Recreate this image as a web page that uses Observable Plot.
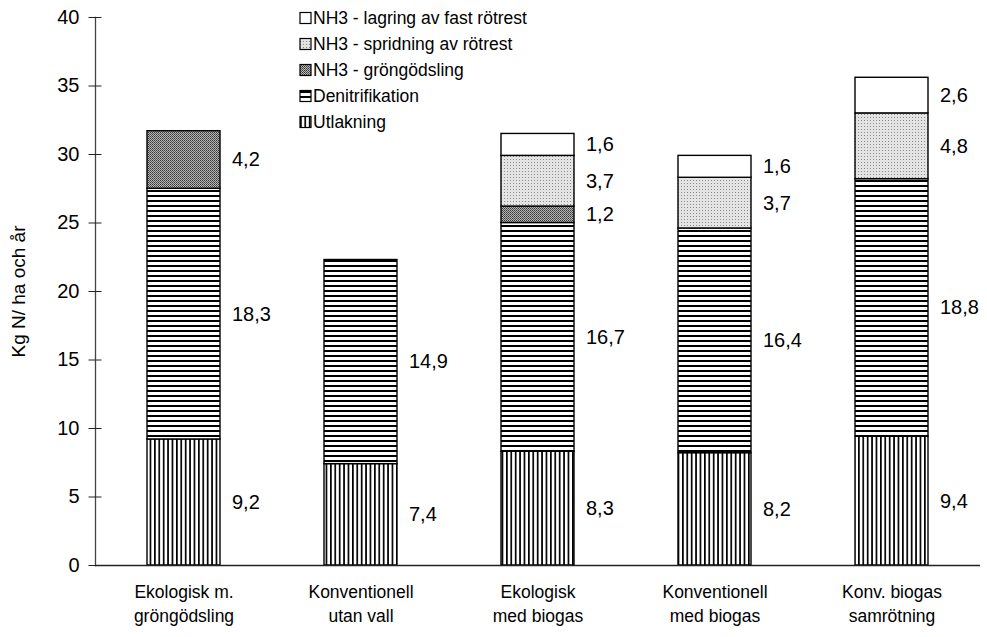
<!DOCTYPE html>
<html><head><meta charset="utf-8">
<script src="https://cdn.jsdelivr.net/npm/d3@7"></script>
<script src="https://cdn.jsdelivr.net/npm/@observablehq/plot@0.6"></script>
<style>
body{margin:0;background:#fff;font-family:"Liberation Sans",Arial,sans-serif}
#chart{position:relative;width:987px;height:637px}
</style>
</head><body><div id="chart"></div>
<script>
const categories = ["Ekologisk m.\ngröngödsling","Konventionell\nutan vall","Ekologisk\nmed biogas","Konventionell\nmed biogas","Konv. biogas\nsamrötning"];
const series = ["Utlakning","Denitrifikation","NH3 - gröngödsling","NH3 - spridning av rötrest","NH3 - lagring av fast rötrest"];
const utlakning = [9.2, 7.4, 8.3, 8.2, 9.4];
const denitrifikation = [18.3, 14.9, 16.7, 16.4, 18.8];
const grongodsling = [4.2, 0, 1.2, 0, 0];
const spridning = [0, 0, 3.7, 3.7, 4.8];
const lagring = [0, 0, 1.6, 1.6, 2.6];
const yTicks = [0, 5, 10, 15, 20, 25, 30, 35, 40];

const patterns = ["url(#pV)", "url(#pH)", "url(#pD)", "url(#pL)", "white"];
const values = [utlakning, denitrifikation, grongodsling, spridning, lagring];

const rows = [];
categories.forEach((cat, i) => {
  let base = 0;
  series.forEach((s, j) => {
    const v = values[j][i];
    if (v > 0) {
      rows.push({cat, series: s, value: v, y1: base, y2: base + v, mid: base + v / 2});
      base += v;
    }
  });
});

const font = '"Liberation Sans", Arial, sans-serif';

const chart = Plot.plot({
  width: 987,
  height: 637,
  marginLeft: 95,
  marginRight: 7,
  marginTop: 17,
  marginBottom: 72,
  style: {fontFamily: font, color: "black", background: "white"},
  x: {domain: categories, paddingInner: 0.59, paddingOuter: 0.295, label: null},
  y: {domain: [0, 40], label: null},
  color: {type: "ordinal", domain: series, range: patterns},
  marks: [
    Plot.barY(rows, {x: "cat", y1: "y1", y2: "y2", fill: "series", stroke: "black", strokeWidth: 1.4}),
    Plot.text(rows, {x: "cat", y: "mid", text: d => d.value.toFixed(1).replace(".", ","), dx: 48, textAnchor: "start", fontSize: 20, fill: "black"}),
    Plot.ruleY([0], {stroke: "#222", strokeWidth: 1.3}),
    Plot.frame({anchor: "left", stroke: "#444", strokeWidth: 1.3}),
    Plot.axisY({ticks: yTicks, tickSize: 13, dx: 6.5, tickFormat: () => "", stroke: "#222", label: null}),
    Plot.axisY({ticks: yTicks, tickSize: 0, tickPadding: 16, fontSize: 20, fill: "black", label: null}),
    Plot.axisY({ticks: [], tickSize: 0, fontSize: 19, fill: "black", label: "Kg N/ ha och år", labelAnchor: "center", labelArrow: "none", labelOffset: 84}),
    Plot.axisX({tickSize: 0, tickPadding: 15, fontSize: 17.5, lineHeight: 1.4, fill: "black", label: null})
  ]
});

document.getElementById("chart").appendChild(chart);
const svg = d3.select(chart);
svg.insert("defs", ":first-child").html(`
<pattern id="pV" width="4.4" height="4" patternUnits="userSpaceOnUse"><rect width="4.4" height="4" fill="white"/><rect x="0" width="1.7" height="4" fill="black"/></pattern>
<pattern id="pH" width="4" height="5" patternUnits="userSpaceOnUse"><rect width="4" height="5" fill="white"/><rect width="4" height="2" fill="black"/></pattern>
<pattern id="pD" width="2" height="2" patternUnits="userSpaceOnUse"><rect width="2" height="2" fill="#b8b8b8"/><rect width="1" height="1" fill="#333"/><rect x="1" y="1" width="1" height="1" fill="#555"/></pattern>
<pattern id="pL" width="3" height="3" patternUnits="userSpaceOnUse"><rect width="3" height="3" fill="#e4e4e4"/><rect width="1" height="1" fill="#8a8a8a"/></pattern>
`);

// legend inside the plot area
const leg = svg.append("g").attr("font-family", font).attr("font-size", 17.5).attr("text-anchor", "start");
const legendOrder = series.slice().reverse();
legendOrder.forEach((s, k) => {
  const cy = 18 + k * 26;
  const g = leg.append("g").attr("transform", `translate(300,${cy})`);
  g.append("rect").attr("x", 0).attr("y", -5.5).attr("width", 11).attr("height", 11)
    .attr("fill", patterns[series.indexOf(s)]).attr("stroke", "black").attr("stroke-width", 1.2);
  g.append("text").attr("x", 13).attr("y", 0).attr("dy", "0.36em").attr("text-anchor", "start").attr("fill", "black").text(s);
});
</script>
</body></html>
